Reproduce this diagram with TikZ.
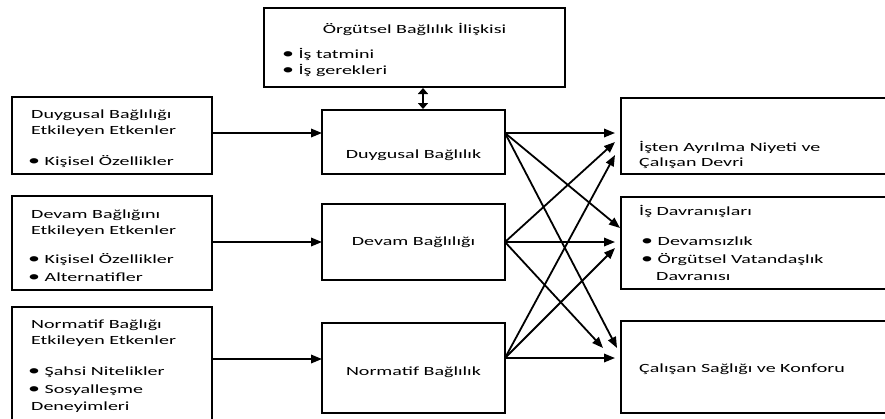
\documentclass[tikz,border=0pt]{standalone}
\usepackage{fontspec}
\setmainfont{Carlito}[FakeStretch=1.6]
\usetikzlibrary{arrows.meta,calc}
\newcommand\bul{\makebox[16.5pt][l]{\fontsize{15}{15}\selectfont •}}
\begin{document}
\begin{tikzpicture}[x=1pt,y=-1pt,
  box/.style={draw, line width=1.9pt, inner sep=0pt, outer sep=0pt, rectangle},
  txt/.style={anchor=base west, inner sep=0pt, font=\fontsize{12.5}{15}\selectfont},
  ctxt/.style={anchor=base, inner sep=0pt, font=\fontsize{12.5}{15}\selectfont},
  arr/.style={line width=1.8pt, -{Triangle[length=11pt,width=8.5pt]}},
  dbl/.style={line width=2.6pt, {Triangle[length=6pt,width=10pt]}-{Triangle[length=6pt,width=10pt]}},
]
\useasboundingbox (0,0) rectangle (885,418);
\clip (0,0) rectangle (885,418);
\fill[white] (0,0) rectangle (885,418);

% boxes
\node[box, minimum width=301pt, minimum height=79pt] (T) at (414.5,47.5) {};
\node[box, minimum width=200pt, minimum height=77pt] (L1) at (112,135.5) {};
\node[box, minimum width=200pt, minimum height=94pt] (L2) at (112,243) {};
\node[box, minimum width=200pt, minimum height=118pt] (L3) at (112,366) {};
\node[box, minimum width=183pt, minimum height=64pt] (M1) at (413.5,142) {};
\node[box, minimum width=183pt, minimum height=76pt] (M2) at (413.5,242) {};
\node[box, minimum width=183pt, minimum height=90pt] (M3) at (413.5,368) {};
\node[box, minimum width=279pt, minimum height=76pt] (R1) at (760.5,136) {};
\node[box, minimum width=279pt, minimum height=92pt] (R2) at (760.5,243) {};
\node[box, minimum width=279pt, minimum height=92pt] (R3) at (760.5,367) {};

% texts: top
\node[ctxt] (t1) at (414.5,33) {Örgütsel Bağlılık İlişkisi};
\node[txt] (t2) at (282,58) {\bul İş tatmini};
\node[txt] (t3) at (282,74) {\bul İş gerekleri};
% left 1
\node[txt] (a1) at (31,118) {Duygusal Bağlılığı};
\node[txt] (a2) at (31,134) {Etkileyen Etkenler};
\node[txt] (a3) at (28,165) {\bul Kişisel Özellikler};
% left 2
\node[txt] (b1) at (31,218) {Devam Bağlığını};
\node[txt] (b2) at (31,234) {Etkileyen Etkenler};
\node[txt] (b3) at (28,263) {\bul Kişisel Özellikler};
\node[txt] (b4) at (28,281) {\bul Alternatifler};
% left 3
\node[txt] (c1) at (31,328) {Normatif Bağlığı};
\node[txt] (c2) at (31,344) {Etkileyen Etkenler};
\node[txt] (c3) at (28,375) {\bul Şahsi Nitelikler};
\node[txt] (c4) at (28,393) {\bul Sosyalleşme};
\node[txt] (c5) at (31,410) {Deneyimleri};
% middle
\node[ctxt] (m1) at (413.5,158) {Duygusal Bağlılık};
\node[ctxt] (m2) at (413.5,245) {Devam Bağlılığı};
\node[ctxt] (m3) at (413.5,375) {Normatif Bağlılık};
% right
\node[txt] (r1) at (639,151) {İşten Ayrılma  Niyeti ve};
\node[txt] (r2) at (639,166) {Çalışan Devri};
\node[txt] (r3) at (639,215) {İş Davranışları};
\node[txt] (r4) at (641,245) {\bul Devamsızlık};
\node[txt] (r5) at (641,263) {\bul Örgütsel Vatandaşlık};
\node[txt] (r6) at (656,280) {Davranısı};
\node[txt] (r7) at (639,372) {Çalışan Sağlığı ve Konforu};

% double arrow
\draw[dbl] ($(T.south)+(8.5,1)$) -- ($(M1.north)+(9.5,-1)$);

% left to middle
\draw[arr] ($(L1.east)+(0,-2.5)$) -- ($(M1.west)+(0,-9)$);
\draw[arr] ($(L2.east)+(0,-1)$) -- ($(M2.west)+(0,0)$);
\draw[arr] ($(L3.east)+(0,-7)$) -- ($(M3.west)+(0,-9)$);

% middle to right
\coordinate (s1) at ($(M1.east)+(0,-9)$);
\coordinate (s2) at (M2.east);
\coordinate (s3) at ($(M3.east)+(0,-10)$);
\draw[arr] (s1) -- ($(R1.west)+(-6,-3)$);
\draw[arr] (s1) -- ($(R2.west)+(-1,-15)$);
\draw[arr] (s1) -- ($(R3.west)+(-4,-19)$);
\draw[arr] (s2) -- ($(R1.west)+(-6,6)$);
\draw[arr] (s2) -- ($(R2.west)+(-6,-1)$);
\draw[arr] (s2) -- ($(R3.west)+(-18,-19)$);
\draw[arr] (s3) -- ($(R1.west)+(-6,19)$);
\draw[arr] (s3) -- ($(R2.west)+(-6,5)$);
\draw[arr] (s3) -- ($(R3.west)+(-6,-9)$);
\end{tikzpicture}
\end{document}
